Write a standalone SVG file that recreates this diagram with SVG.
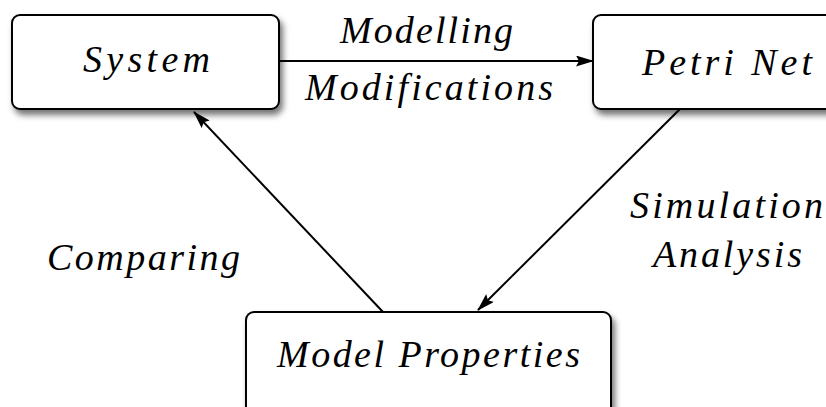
<svg xmlns="http://www.w3.org/2000/svg" width="826" height="407" viewBox="0 0 826 407">
<defs>
<filter id="sh" x="-10%" y="-20%" width="130%" height="150%">
<feDropShadow dx="3" dy="5" stdDeviation="3" flood-color="#000" flood-opacity="0.55"/>
</filter>
<marker id="ah" viewBox="0 0 18 11" markerWidth="18" markerHeight="11" refX="17" refY="5.5" orient="auto" markerUnits="userSpaceOnUse">
<path d="M0,0 L18,5.5 L0,11 L3,5.5 Z" fill="#000"/>
</marker>
</defs>
<style>
.box{fill:#fff;stroke:#000;stroke-width:2;filter:url(#sh)}
.c{stroke:#000;stroke-width:2;fill:none;marker-end:url(#ah)}
text{font-family:"Liberation Serif",serif;font-style:italic;font-size:38px;fill:#000}
</style>
<rect width="826" height="407" fill="#fff"/>
<g id="system">
<rect class="box" x="12" y="15" width="267" height="94" rx="8"/>
<text x="83" y="72" textLength="127" lengthAdjust="spacing">System</text>
</g>
<g id="petri-net">
<rect class="box" x="593" y="15" width="250" height="94" rx="8"/>
<text x="642" y="75" textLength="170" lengthAdjust="spacing">Petri Net</text>
</g>
<g id="model-properties">
<rect class="box" x="246" y="312" width="365" height="105" rx="8"/>
<text x="277" y="367" textLength="303" lengthAdjust="spacing">Model Properties</text>
</g>
<g id="connectors">
<line class="c" x1="279" y1="61" x2="593" y2="61"/>
<line class="c" x1="680" y1="109" x2="478" y2="310"/>
<line class="c" x1="383" y1="312" x2="194" y2="112"/>
<text x="340" y="43" textLength="173" lengthAdjust="spacing">Modelling</text>
<text x="305" y="100" textLength="248" lengthAdjust="spacing">Modifications</text>
<text x="630" y="218" textLength="193" lengthAdjust="spacing">Simulation</text>
<text x="653" y="267" textLength="149" lengthAdjust="spacing">Analysis</text>
<text x="47" y="270" textLength="193" lengthAdjust="spacing">Comparing</text>
</g>
</svg>
